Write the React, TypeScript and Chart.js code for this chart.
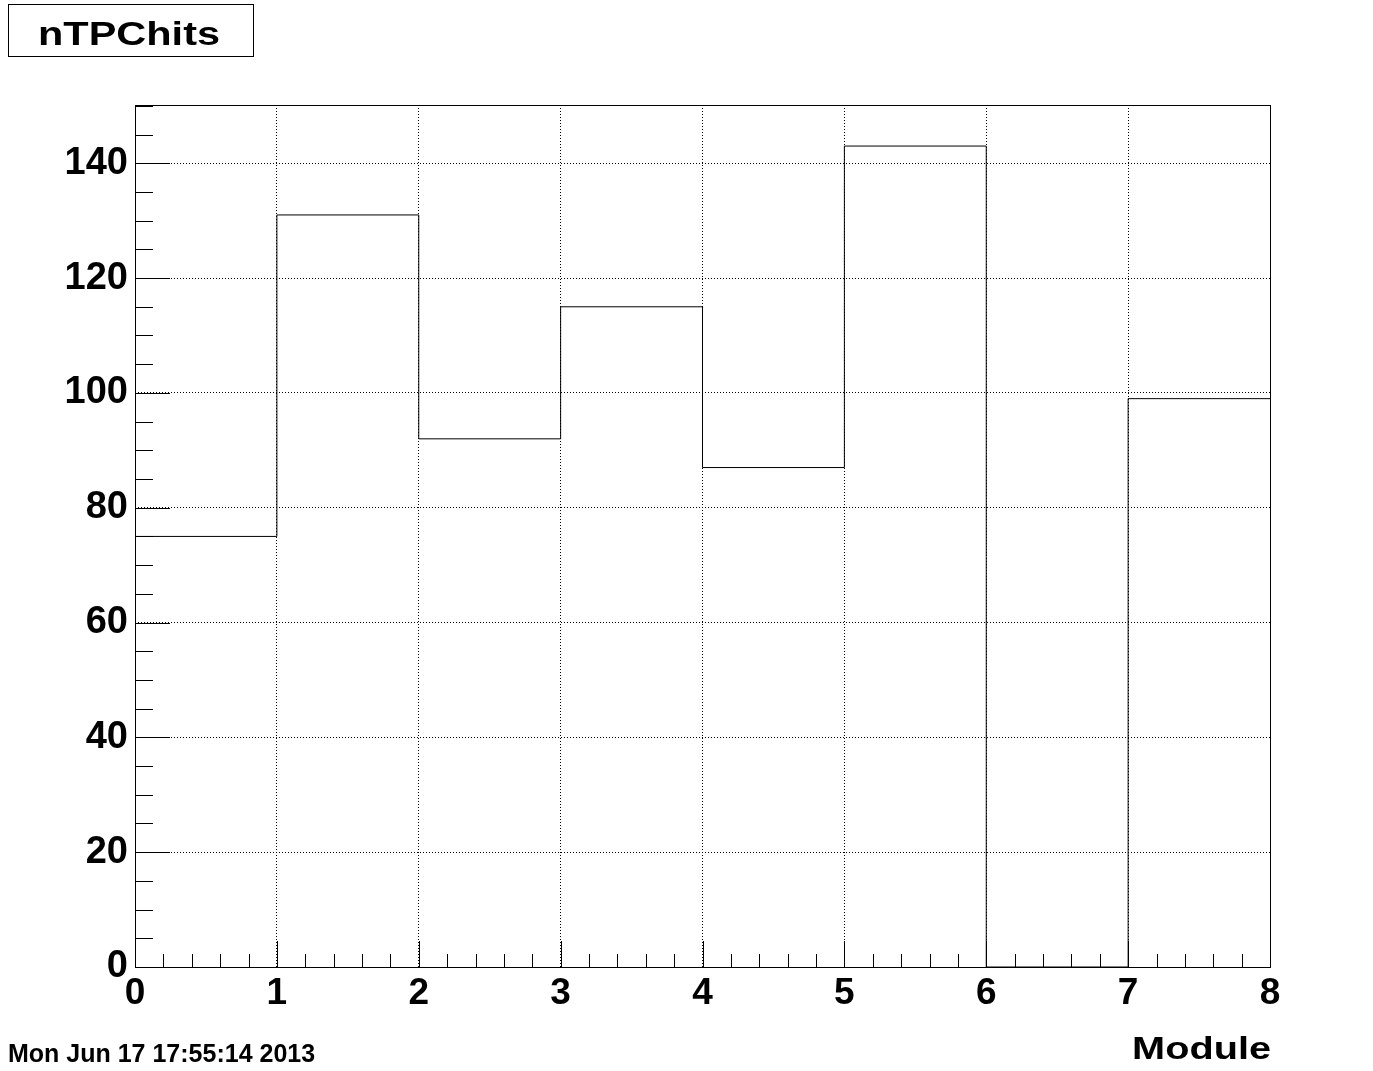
import React, { useEffect, useRef } from "react";
import { Chart, registerables } from "chart.js";

Chart.register(...registerables);

// ---- data ----
const binEdges = [0, 1, 2, 3, 4, 5, 6, 7, 8];
const binCounts = [75, 131, 92, 115, 87, 143, 0, 99];
const xTickValues = [0, 1, 2, 3, 4, 5, 6, 7, 8];
const yTickValues = [0, 20, 40, 60, 80, 100, 120, 140];
const yMaxValue = 150.15;
const xMinorStep = 0.2;
const yMinorStep = 5;
const titleText = "nTPChits";
const xAxisTitle = "Module";
const dateText = "Mon Jun 17 17:55:14 2013";

const FONT = '"Liberation Sans", Arial, Helvetica, sans-serif';

const rootAxesPlugin = {
  id: "rootAxes",
  afterDatasetsDraw(chart: any) {
    const { ctx, chartArea: a, scales } = chart;
    const xs = scales.x;
    const ys = scales.y;
    ctx.save();
    ctx.strokeStyle = "#000";
    ctx.lineWidth = 1;
    ctx.setLineDash([]);
    ctx.beginPath();
    const nY = Math.round((ys.max - ys.min) / yMinorStep);
    for (let i = 0; i <= nY; i++) {
      const v = ys.min + i * yMinorStep;
      if (v > ys.max + 1e-9) break;
      const py = Math.round(ys.getPixelForValue(v)) + 0.5;
      const major = yTickValues.includes(v);
      const len = major ? 35 : 18;
      ctx.moveTo(a.left, py);
      ctx.lineTo(a.left + len, py);
    }
    const nX = Math.round((xs.max - xs.min) / xMinorStep);
    for (let i = 0; i <= nX; i++) {
      const v = xs.min + i * xMinorStep;
      const px = Math.round(xs.getPixelForValue(v)) + 0.5;
      const major = Math.abs(v - Math.round(v)) < 1e-6;
      const len = major ? 26 : 13;
      ctx.moveTo(px, a.bottom);
      ctx.lineTo(px, a.bottom - len);
    }
    ctx.stroke();
    ctx.strokeRect(
      Math.round(a.left) + 0.5,
      Math.round(a.top) + 0.5,
      Math.round(a.right) - Math.round(a.left),
      Math.round(a.bottom) - Math.round(a.top)
    );
    ctx.restore();
  },
};

export default function App() {
  const canvasRef = useRef<HTMLCanvasElement | null>(null);

  useEffect(() => {
    document.body.style.margin = "0";
    const canvas = canvasRef.current;
    if (!canvas) return;
    // histogram outline: point at each low edge carries that bin's count,
    // the last edge repeats the final bin so the step closes at x = 8
    const points = binEdges.map((x, i) => ({
      x,
      y: binCounts[Math.min(i, binCounts.length - 1)],
    }));
    const chart = new Chart(canvas, {
      type: "line",
      data: {
        datasets: [
          {
            data: points,
            stepped: "before",
            borderColor: "#000",
            borderWidth: 1,
            pointRadius: 0,
            fill: false,
          },
        ],
      },
      options: {
        responsive: false,
        animation: false,
        devicePixelRatio: 1,
        layout: { padding: { top: 105, right: 103, left: 0, bottom: 0 } },
        plugins: {
          legend: { display: false },
          title: { display: false },
          tooltip: { enabled: false },
        },
        scales: {
          x: {
            type: "linear",
            min: 0,
            max: 8,
            afterBuildTicks: (s: any) => {
              s.ticks = xTickValues.map((v) => ({ value: v }));
            },
            afterFit: (s: any) => {
              s.height = 104;
            },
            ticks: {
              font: { family: FONT, size: 37, weight: "bold" },
              color: "#000",
              padding: 5,
              maxRotation: 0,
              autoSkip: false,
              callback: (v: any) => String(v),
            },
            grid: {
              drawTicks: false,
              color: (c: any) =>
                c.tick && (c.tick.value === 0 || c.tick.value === 8) ? "rgba(0,0,0,0)" : "#000",
              lineWidth: 1,
            },
            border: { display: false, dash: [1, 2] },
          },
          y: {
            type: "linear",
            min: 0,
            max: yMaxValue,
            afterBuildTicks: (s: any) => {
              s.ticks = yTickValues.map((v) => ({ value: v }));
            },
            afterFit: (s: any) => {
              s.width = 135;
            },
            ticks: {
              font: { family: FONT, size: 38, weight: "bold" },
              color: "#000",
              padding: 7,
              autoSkip: false,
              callback: (v: any) => String(v),
            },
            grid: {
              drawTicks: false,
              color: (c: any) => (c.tick && c.tick.value === 0 ? "rgba(0,0,0,0)" : "#000"),
              lineWidth: 1,
            },
            border: { display: false, dash: [1, 2] },
          },
        },
      },
      plugins: [rootAxesPlugin],
    });
    return () => chart.destroy();
  }, []);

  return (
    <div style={{ position: "relative", width: 1373, height: 1071, background: "#fff", overflow: "hidden" }}>
      <canvas ref={canvasRef} width={1373} height={1071} style={{ position: "absolute", left: 0, top: 0 }} />
      <div
        style={{
          position: "absolute",
          left: 8,
          top: 4,
          width: 244,
          height: 51,
          border: "1px solid #000",
          background: "#fff",
        }}
      >
        <div
          style={{
            position: "absolute",
            left: -2,
            width: 244,
            top: 11,
            textAlign: "center",
            fontFamily: FONT,
            fontWeight: "bold",
            fontSize: 34,
            lineHeight: "34px",
            whiteSpace: "nowrap",
            transform: "scaleX(1.22)",
            transformOrigin: "center",
          }}
        >
          {titleText}
        </div>
      </div>
      <div
        style={{
          position: "absolute",
          right: 1373 - 1271,
          top: 1032,
          fontFamily: FONT,
          fontWeight: "bold",
          fontSize: 32,
          lineHeight: "32px",
          whiteSpace: "nowrap",
          transform: "scaleX(1.24)",
          transformOrigin: "right",
        }}
      >
        {xAxisTitle}
      </div>
      <div
        style={{
          position: "absolute",
          left: 8,
          top: 1041,
          fontFamily: FONT,
          fontWeight: "bold",
          fontSize: 25,
          lineHeight: "25px",
          whiteSpace: "nowrap",
        }}
      >
        {dateText}
      </div>
    </div>
  );
}
